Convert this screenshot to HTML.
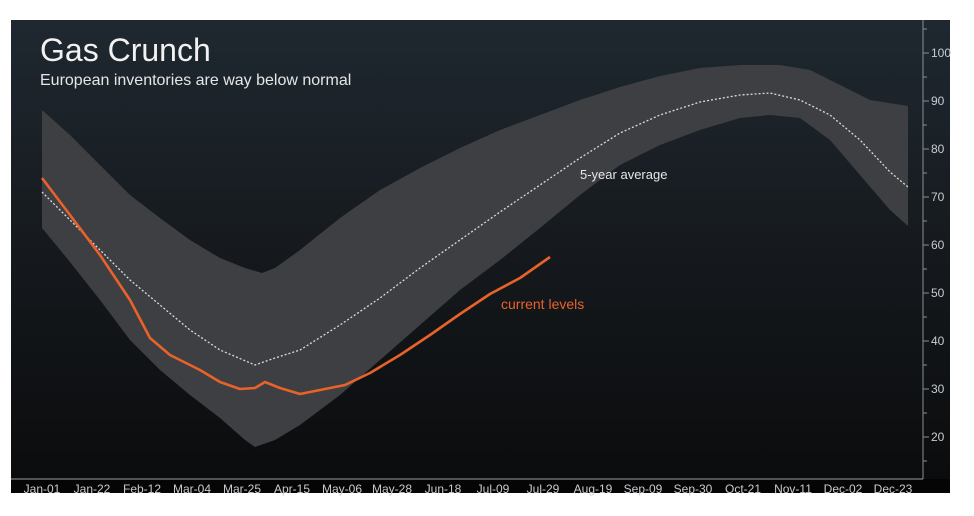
<!DOCTYPE html><html><head><style>body{margin:0;background:#fff}svg{display:block}</style></head><body>
<svg width="974" height="516" xmlns="http://www.w3.org/2000/svg" font-family="Liberation Sans, DejaVu Sans, sans-serif">
<defs><linearGradient id="bg" x1="0" y1="0" x2="0" y2="1"><stop offset="0" stop-color="#1f2830"/><stop offset="0.5" stop-color="#15191d"/><stop offset="1" stop-color="#0a0b0c"/></linearGradient></defs>
<rect x="11" y="20" width="939" height="473" fill="url(#bg)"/>
<rect x="11" y="479" width="939" height="14" fill="#050505"/>
<path fill="#3d3f42" d="M42,110 L70,135 100,165 130,195 160,218 190,240 220,258 245,268 262,273 275,268 300,250 340,218 380,190 420,168 460,148 500,130 540,115 580,100 620,87 660,76 700,68 740,65 780,65 810,70 840,85 870,100 908,106 L908,226 890,210 860,175 830,140 800,118 770,115 740,118 700,130 660,145 620,165 580,195 540,228 500,260 460,290 420,325 380,360 340,395 300,425 275,440 255,447 245,440 220,418 190,395 160,370 130,340 100,300 70,262 42,228 Z"/>
<polyline fill="none" stroke="#d8dde0" stroke-width="1.3" stroke-dasharray="2,2" points="42,192 70,220 100,250 130,280 160,305 190,330 220,350 255,365 275,358 300,350 340,325 380,298 420,268 460,240 500,212 540,185 580,158 620,133 660,115 700,102 740,95 770,93 800,100 830,115 860,140 890,172 908,187"/>
<polyline fill="none" stroke="#e8622a" stroke-width="2.6" stroke-linejoin="round" points="42,178 70,215 100,255 130,300 150,338 170,355 200,370 220,382 240,389 255,388 265,382 280,388 300,394 320,390 345,385 370,373 400,355 430,335 460,314 490,294 520,278 550,257"/>
<text x="40" y="61" font-size="32" fill="#f2f2f2">Gas Crunch</text>
<text x="40" y="85" font-size="16" fill="#e6e6e6">European inventories are way below normal</text>
<text x="580" y="179" font-size="13" fill="#e6e6e6">5-year average</text>
<text x="501" y="309" font-size="14" fill="#e8622a">current levels</text>
<line x1="923" y1="20" x2="923" y2="479" stroke="#8a8f94" stroke-width="1"/>
<line x1="11" y1="479" x2="923" y2="479" stroke="#9a9ea2" stroke-width="1"/>
<g stroke="#8a8f94" stroke-width="1">
<line x1="923" y1="29" x2="927" y2="29"/><line x1="923" y1="53" x2="929" y2="53"/><line x1="923" y1="77" x2="927" y2="77"/><line x1="923" y1="101" x2="929" y2="101"/><line x1="923" y1="125" x2="927" y2="125"/><line x1="923" y1="149" x2="929" y2="149"/><line x1="923" y1="173" x2="927" y2="173"/><line x1="923" y1="197" x2="929" y2="197"/><line x1="923" y1="221" x2="927" y2="221"/><line x1="923" y1="245" x2="929" y2="245"/><line x1="923" y1="269" x2="927" y2="269"/><line x1="923" y1="293" x2="929" y2="293"/><line x1="923" y1="317" x2="927" y2="317"/><line x1="923" y1="341" x2="929" y2="341"/><line x1="923" y1="365" x2="927" y2="365"/><line x1="923" y1="389" x2="929" y2="389"/><line x1="923" y1="413" x2="927" y2="413"/><line x1="923" y1="437" x2="929" y2="437"/><line x1="923" y1="461" x2="927" y2="461"/>
</g>
<g font-size="12" fill="#c8ccd0">
<text x="931" y="57">100</text><text x="931" y="105">90</text><text x="931" y="153">80</text><text x="931" y="201">70</text><text x="931" y="249">60</text><text x="931" y="297">50</text><text x="931" y="345">40</text><text x="931" y="393">30</text><text x="931" y="441">20</text>
</g>
<g font-size="12" fill="#c8ccd0" text-anchor="middle">
<text x="42" y="493">Jan-01</text><text x="92" y="493">Jan-22</text><text x="142" y="493">Feb-12</text><text x="192" y="493">Mar-04</text><text x="242" y="493">Mar-25</text><text x="292" y="493">Apr-15</text><text x="342" y="493">May-06</text><text x="392" y="493">May-28</text><text x="443" y="493">Jun-18</text><text x="493" y="493">Jul-09</text><text x="543" y="493">Jul-29</text><text x="593" y="493">Aug-19</text><text x="643" y="493">Sep-09</text><text x="693" y="493">Sep-30</text><text x="743" y="493">Oct-21</text><text x="793" y="493">Nov-11</text><text x="843" y="493">Dec-02</text><text x="893" y="493">Dec-23</text>
</g>
</svg>
</body></html>
